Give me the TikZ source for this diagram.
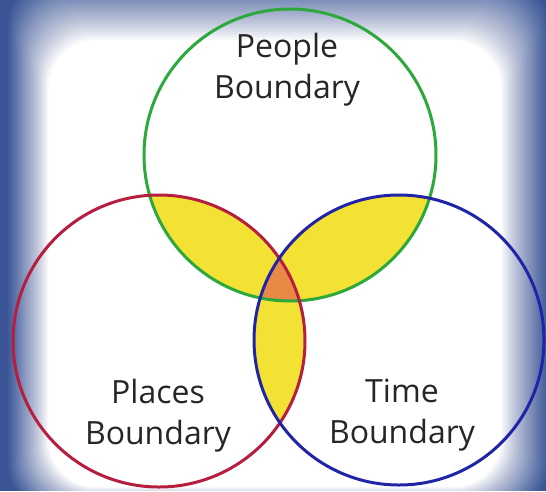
\documentclass[tikz,border=0pt]{standalone}
\usepackage{fontspec}
\setmainfont{Open Sans}

\definecolor{vignetteblue}{RGB}{58,84,150}
\definecolor{peoplegreen}{RGB}{44,168,60}
\definecolor{placesred}{RGB}{182,30,64}
\definecolor{timeblue}{RGB}{34,36,168}
\definecolor{overlapyellow}{RGB}{243,226,52}
\definecolor{overlaporange}{RGB}{232,138,70}

\tikzset{
  ring/.style={line width=3pt},
  caption/.style={align=center, inner sep=0pt, text=black!85,
                  font=\fontsize{32}{41}\selectfont}
}

% the three boundaries
\def\peoplecircle{(290,155) circle[radius=146]}
\def\placescircle{(159,341) circle[radius=146]}
\def\timecircle{(399,340) circle[radius=145]}

\begin{document}
\begin{tikzpicture}[x=1pt, y=-1pt]
  \useasboundingbox (0,0) rectangle (546,491);

  % Background with blue vignette (linear fade to white)
  \fill[vignetteblue] (0,0) rectangle (546,491);
  \foreach \k [evaluate=\k as \op using 1/(32-\k)] in {0,...,31}
    \fill[white, fill opacity=\op, rounded corners=48]
      ({8+1.3*\k},{-22+2*\k}) rectangle ({548-1.5*\k},{512-0.8*\k});

  % pairwise overlaps
  \begin{scope}
    \clip \peoplecircle;
    \fill[overlapyellow] \placescircle;
    \fill[overlapyellow] \timecircle;
  \end{scope}
  \begin{scope}
    \clip \placescircle;
    \fill[overlapyellow] \timecircle;
  \end{scope}

  % all three
  \begin{scope}
    \clip \peoplecircle;
    \clip \placescircle;
    \fill[overlaporange] \timecircle;
  \end{scope}

  % Outlines
  \draw[ring, peoplegreen] \peoplecircle;
  \draw[ring, placesred] \placescircle;
  \draw[ring, timeblue] \timecircle;

  % Labels
  \node[caption] (people) at (287,69.5) {People\\Boundary};
  \node[caption] (places) at (158,415.5) {Places\\Boundary};
  \node[caption] (time) at (402,415.5) {Time\\Boundary};

\end{tikzpicture}
\end{document}
